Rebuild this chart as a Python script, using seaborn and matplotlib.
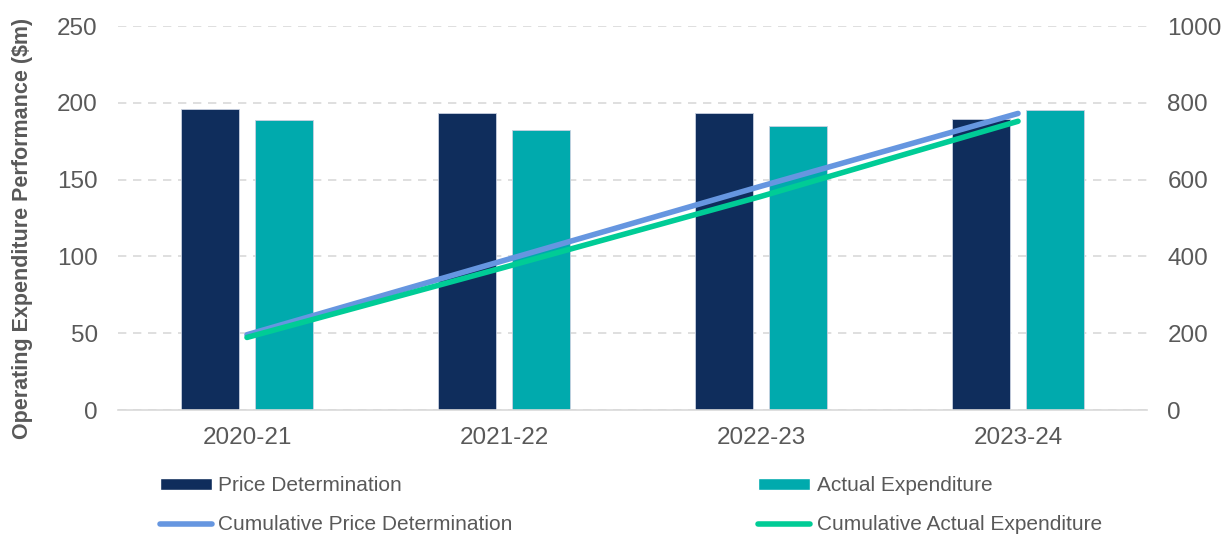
import numpy as np
import pandas as pd
import matplotlib
matplotlib.use("Agg")
import matplotlib.pyplot as plt
import seaborn as sns
from matplotlib.patches import Patch
from matplotlib.lines import Line2D

# Operating expenditure by year ($m)
years = ["2020-21", "2021-22", "2022-23", "2023-24"]
price_determination = [196, 193.4, 193.4, 189.5]
actual_expenditure = [189, 182.3, 185, 195.6]

series_names = ["Price Determination", "Actual Expenditure"]
line_names = ["Cumulative Price Determination", "Cumulative Actual Expenditure"]

bar_colors = ["#0F2D5C", "#00AAAD"]
line_colors = ["#6696E0", "#00CC96"]
text_color = "#595959"

sns.set_theme(style="white")
plt.rcParams["font.family"] = ["Liberation Sans", "DejaVu Sans"]

df = pd.DataFrame({
    "year": years * 2,
    "value": price_determination + actual_expenditure,
    "series": [series_names[0]] * len(years) + [series_names[1]] * len(years),
})

cum_df = pd.DataFrame({
    "pos": list(np.arange(len(years))) * 2,
    "value": list(np.cumsum(price_determination)) + list(np.cumsum(actual_expenditure)),
    "series": [line_names[0]] * len(years) + [line_names[1]] * len(years),
})

fig = plt.figure(figsize=(12.29, 5.34), dpi=100)
ax = fig.add_axes([0.0964, 0.2322, 0.8365, 0.7191])

sns.barplot(data=df, x="year", y="value", hue="series", order=years,
            hue_order=series_names, palette=bar_colors, saturation=1,
            width=0.576, gap=0.215, edgecolor="#c8d0e0", linewidth=0.6,
            legend=False, ax=ax)

ax.set_xlim(-0.5, len(years) - 0.5)
ax.set_ylim(0, 250)
ax.set_yticks(np.arange(0, 251, 50))
ax.yaxis.grid(True, color="#d9d9d9", linestyle=(0, (5, 4)), linewidth=1.2)
ax.set_axisbelow(True)
for s in ["top", "left", "right"]:
    ax.spines[s].set_visible(False)
ax.spines["bottom"].set_color("#d9d9d9")
ax.spines["bottom"].set_linewidth(1.2)
ax.tick_params(axis="both", length=0, labelsize=17.5, colors=text_color)
ax.tick_params(axis="x", pad=12)
ax.tick_params(axis="y", pad=15)
ax.set_xlabel("")
ax.set_ylabel("Operating Expenditure Performance ($m)", fontsize=15.5,
              fontweight="bold", color=text_color)
ax.yaxis.set_label_coords(-0.083, 0.474)

ax2 = ax.twinx()
sns.lineplot(data=cum_df, x="pos", y="value", hue="series", hue_order=line_names,
             palette=line_colors, linewidth=4, legend=False, ax=ax2,
             solid_capstyle="round")
ax2.set_ylim(0, 1000)
ax2.set_yticks(np.arange(0, 1001, 200))
ax2.set_xlim(-0.5, len(years) - 0.5)
for s in ["top", "left", "right", "bottom"]:
    ax2.spines[s].set_visible(False)
ax2.tick_params(axis="y", length=0, labelsize=17.5, colors=text_color, pad=15)
ax2.set_ylabel("")

handles = [
    Patch(facecolor=bar_colors[0]),
    Line2D([0], [0], color=line_colors[0], linewidth=4, solid_capstyle="round"),
    Patch(facecolor=bar_colors[1]),
    Line2D([0], [0], color=line_colors[1], linewidth=4, solid_capstyle="round"),
]
labels = [series_names[0], line_names[0], series_names[1], line_names[1]]
leg = fig.legend(handles, labels, ncol=2, loc="upper left",
                 bbox_to_anchor=(0.130, 0.108), frameon=False,
                 fontsize=15, handlelength=2.5, handleheight=0.45,
                 handletextpad=0.3, columnspacing=11.8, labelspacing=0.95,
                 borderaxespad=0, borderpad=0)
for t in leg.get_texts():
    t.set_color(text_color)

fig.savefig("out.png", dpi=100)
